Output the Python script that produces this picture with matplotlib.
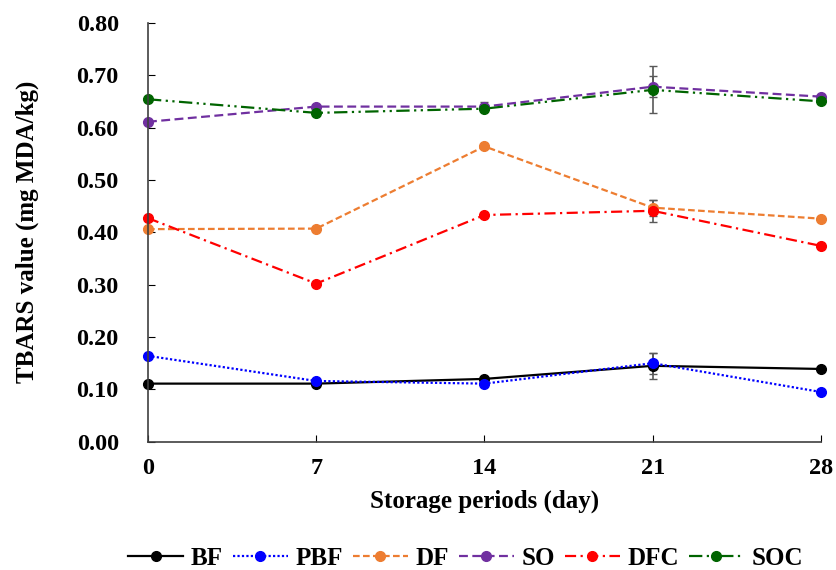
import matplotlib
matplotlib.use("Agg")
import matplotlib.pyplot as plt
from matplotlib.lines import Line2D

plt.rcParams["font.family"] = ["Liberation Serif", "DejaVu Serif"]
plt.rcParams["font.weight"] = "bold"

# storage day
days = [0, 7, 14, 21, 28]

# TBARS (mg MDA/kg) per treatment
bf = [0.111, 0.111, 0.120, 0.145, 0.139]
pbf = [0.164, 0.116, 0.111, 0.150, 0.095]
df = [0.406, 0.407, 0.564, 0.447, 0.426]
so = [0.611, 0.640, 0.640, 0.678, 0.659]
dfc = [0.427, 0.302, 0.433, 0.441, 0.374]
soc = [0.654, 0.628, 0.636, 0.672, 0.650]

# standard deviations (mostly too small to see)
bf_err = [0.003, 0.003, 0.003, 0.025, 0.003]
pbf_err = [0.003, 0.003, 0.003, 0.020, 0.003]
df_err = [0.003, 0.004, 0.003, 0.015, 0.003]
so_err = [0.003, 0.003, 0.008, 0.020, 0.003]
dfc_err = [0.003, 0.003, 0.003, 0.021, 0.003]
soc_err = [0.003, 0.003, 0.005, 0.045, 0.003]

series = [
    ("BF", bf, bf_err, "black", "-"),
    ("PBF", pbf, pbf_err, "#0000FF", (0, (1, 1))),
    ("DF", df, df_err, "#ED7D31", (0, (3, 1.5))),
    ("SO", so, so_err, "#7030A0", (0, (4, 2))),
    ("DFC", dfc, dfc_err, "#FF0000", (0, (5, 2, 1, 2))),
    ("SOC", soc, soc_err, "#006400", (0, (6, 2, 1, 2, 1, 2))),
]

FS = 18

fig = plt.figure(figsize=(8.36, 5.70), dpi=100)
ax = fig.add_axes([0.177, 0.225, 0.805, 0.735])

handles = []
for name, vals, err, col, ls in series:
    ax.errorbar(days, vals, yerr=err, color=col, ls=ls, lw=1.6,
                marker="o", ms=7, ecolor="#595959", elinewidth=1.2,
                capsize=3)
    handles.append(Line2D([], [], color=col, ls=ls, lw=1.6, marker="o",
                          ms=7, label=name))

ax.set_xlim(0, 28)
ax.set_ylim(0, 0.80)
ax.set_xticks(days)
ax.set_yticks([i / 10 for i in range(9)])
ax.set_yticklabels([f"{i / 10:.2f}" for i in range(9)])
ax.tick_params(direction="in", length=5, labelsize=17.5)
ax.tick_params(axis="y", pad=21)
ax.tick_params(axis="x", pad=12)
for lab in ax.get_xticklabels() + ax.get_yticklabels():
    lab.set_fontweight("bold")
for s in ["top", "right"]:
    ax.spines[s].set_visible(False)
for s in ["left", "bottom"]:
    ax.spines[s].set_color("#404040")
    ax.spines[s].set_linewidth(1.2)
for m in ax.lines:
    m.set_clip_on(False)

ax.set_xlabel("Storage periods (day)", fontsize=FS, fontweight="bold", labelpad=7)
ax.set_ylabel("TBARS value (mg MDA/kg)", fontsize=FS, fontweight="bold", labelpad=27)

fig.legend(handles=handles, loc="center", bbox_to_anchor=(0.557, 0.02), ncol=6,
           frameon=False, handlelength=2.2, handletextpad=0.3,
           columnspacing=0.4, prop={"weight": "bold", "size": FS})

fig.savefig("out.png", dpi=100)
